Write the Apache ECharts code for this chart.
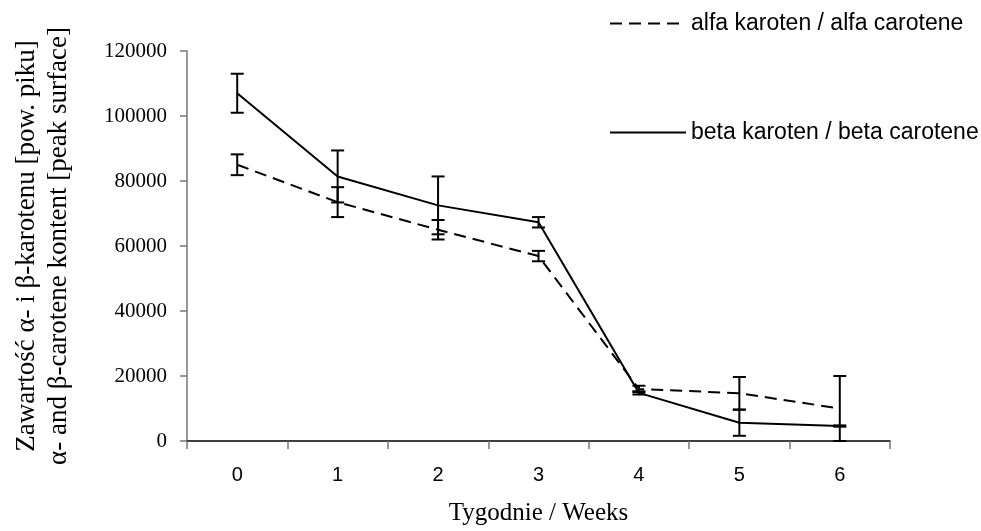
<!DOCTYPE html>
<html>
<head>
<meta charset="utf-8">
<script src="https://cdn.jsdelivr.net/npm/echarts@6/dist/echarts.min.js"></script>
<style>html,body{margin:0;padding:0;background:#fff}#c{width:981px;height:531px}</style>
</head>
<body>
<div id="c"></div>
<script>
const weeks = ['0','1','2','3','4','5','6'];
const alfaName = 'alfa karoten / alfa carotene';
const betaName = 'beta karoten / beta carotene';
const alfaValues = [85000, 73500, 65000, 56900, 16000, 14700, 10000];
const alfaErrors = [3200, 4600, 3000, 1600, 1000, 5000, 10000];
const betaValues = [107000, 81400, 72500, 67300, 14800, 5600, 4600];
const betaErrors = [6000, 8000, 8900, 1600, 500, 4000, 200];
const yTicks = [0, 20000, 40000, 60000, 80000, 100000, 120000];

function errData(vals, errs) {
  return vals.map((v, i) => [i, Math.max(0, v - errs[i]), v + errs[i]]);
}
function errRender(params, api) {
  const x = api.value(0);
  const lo = api.coord([x, api.value(1)]);
  const hi = api.coord([x, api.value(2)]);
  const hw = 6.5;
  const st = { stroke: '#000', lineWidth: 2 };
  return {
    type: 'group',
    children: [
      { type: 'line', shape: { x1: lo[0], y1: lo[1], x2: hi[0], y2: hi[1] }, style: st },
      { type: 'line', shape: { x1: lo[0] - hw, y1: lo[1], x2: lo[0] + hw, y2: lo[1] }, style: st },
      { type: 'line', shape: { x1: hi[0] - hw, y1: hi[1], x2: hi[0] + hw, y2: hi[1] }, style: st }
    ]
  };
}

const legendText = { fontFamily: 'Liberation Sans', fontSize: 23, color: '#000' };
const chart = echarts.init(document.getElementById('c'), null, { renderer: 'canvas' });
chart.setOption({
  animation: false,
  backgroundColor: '#fff',
  grid: { left: 187, right: 91, top: 51, bottom: 89 },
  legend: [
    { data: [alfaName], left: 604, top: 7, itemWidth: 76, itemHeight: 14,
      itemStyle: { opacity: 0 }, textStyle: legendText },
    { data: [betaName], left: 604, top: 116, itemWidth: 76, itemHeight: 14,
      itemStyle: { opacity: 0 }, textStyle: legendText }
  ],
  xAxis: {
    type: 'category',
    data: weeks,
    boundaryGap: true,
    name: 'Tygodnie / Weeks',
    nameLocation: 'middle',
    nameGap: 60,
    nameTextStyle: { fontFamily: 'Liberation Serif', fontSize: 25, color: '#000' },
    axisLine: { lineStyle: { color: '#000', width: 1.5 } },
    axisTick: { show: true, length: 8, lineStyle: { color: '#777', width: 1.5 } },
    axisLabel: { margin: 24, fontFamily: 'Liberation Sans', fontSize: 20, color: '#000' },
    splitLine: { show: false }
  },
  yAxis: {
    type: 'value',
    min: yTicks[0],
    max: yTicks[yTicks.length - 1],
    interval: yTicks[1] - yTicks[0],
    name: 'Zawartość α- i β-karotenu [pow. piku]\nα- and β-carotene kontent [peak surface]',
    nameLocation: 'middle',
    nameRotate: 90,
    nameGap: 112,
    nameTextStyle: { fontFamily: 'Liberation Serif', fontSize: 27, lineHeight: 32, color: '#000', align: 'center' },
    axisLine: { show: true, lineStyle: { color: '#777', width: 1.5 } },
    axisTick: { show: true, length: 7, lineStyle: { color: '#777', width: 1.5 } },
    axisLabel: { margin: 20, fontFamily: 'Liberation Serif', fontSize: 21, color: '#000',
      formatter: v => String(v) },
    splitLine: { show: false }
  },
  series: [
    { name: alfaName, type: 'line', data: alfaValues, symbol: 'none', z: 3,
      lineStyle: { color: '#000', width: 2, type: [12, 7] }, itemStyle: { color: '#000' } },
    { name: betaName, type: 'line', data: betaValues, symbol: 'none', z: 3,
      lineStyle: { color: '#000', width: 2, type: 'solid' }, itemStyle: { color: '#000' } },
    { name: 'alfaErr', type: 'custom', data: errData(alfaValues, alfaErrors), renderItem: errRender, z: 4, silent: true },
    { name: 'betaErr', type: 'custom', data: errData(betaValues, betaErrors), renderItem: errRender, z: 4, silent: true }
  ]
});
</script>
</body>
</html>
